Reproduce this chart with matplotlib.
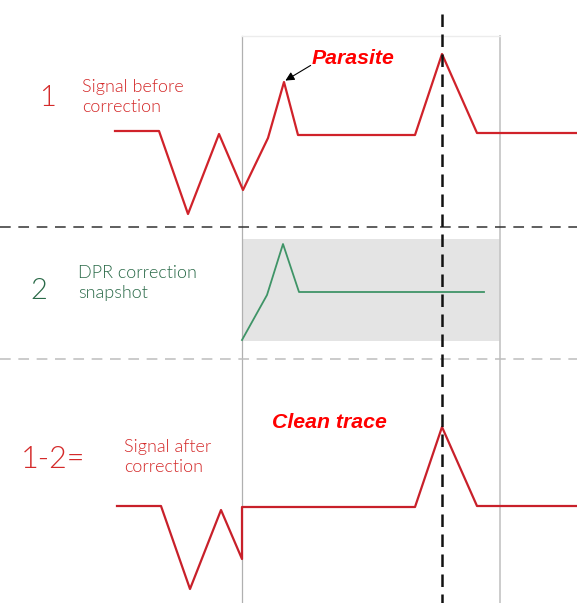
import numpy as np
from matplotlib import pyplot as plt

# trace 1: signal before correction (x = time, y = screen level)
sig1_x = [115, 159, 188, 219, 243, 268, 284, 298, 415, 442, 477, 577]
sig1_y = [131, 131, 214, 134, 190, 138, 82, 135, 135, 54, 133, 133]

# trace 2: DPR correction snapshot
dpr_x = [242, 267, 283, 299, 484]
dpr_y = [340, 295, 244, 292, 292]

# trace 3: signal after correction
sig3_x = [117, 161, 190, 221, 242, 242, 415, 442, 477, 577]
sig3_y = [506, 506, 589, 510, 559, 507, 507, 427, 506, 506]

red = '#d42a2a'
green_line = '#3f9467'
green_txt = '#2a6a48'

fig = plt.figure(figsize=(5.77, 6.03), dpi=100)
ax = fig.add_axes([0, 0, 1, 1])
ax.set_xlim(0, 577)
ax.set_ylim(603, 0)
ax.axis('off')

# window frame and grey snapshot band
ax.plot([242, 242], [36, 603], color='#b0b0b0', lw=0.9)
ax.plot([500, 500], [36, 603], color='#c8c8c8', lw=1.3)
ax.plot([242, 500], [36, 36], color='#ececec', lw=1)
ax.fill_between([242, 500], 239, 341, color='#e4e4e4', lw=0)

# separators
ax.plot([0, 577], [227, 227], color='#333333', lw=1.1, ls=(0, (7, 5)))
ax.plot([0, 577], [359, 359], color='#bdbdbd', lw=1.1, ls=(0, (7, 5)))
ax.plot([442, 442], [14, 603], color='#111111', lw=1.8, ls=(0, (5, 3)), zorder=5)

ax.plot(sig1_x, sig1_y, color='#d0222a', lw=1.6, zorder=4)
ax.plot(dpr_x, dpr_y, color=green_line, lw=1.3, zorder=4)
ax.plot(sig3_x, sig3_y, color='#c8202a', lw=1.6, zorder=4)

lab = dict(family='Lato', fontweight=300)
ax.text(47, 98, '1', color=red, fontsize=21, ha='center', va='center', **lab)
ax.text(82, 97, 'Signal before\ncorrection', color=red, fontsize=13,
        ha='left', va='center', linespacing=1.35, **lab)
ax.text(39, 291, '2', color=green_txt, fontsize=21, ha='center', va='center', **lab)
ax.text(78, 283, 'DPR correction\nsnapshot', color=green_txt, fontsize=13,
        ha='left', va='center', linespacing=1.35, **lab)
ax.text(53, 459, '1-2=', color=red, fontsize=22, ha='center', va='center', **lab)
ax.text(124, 457, 'Signal after\ncorrection', color=red, fontsize=13,
        ha='left', va='center', linespacing=1.35, **lab)

bold = dict(family='Liberation Sans', fontweight='bold', fontstyle='italic',
            color='#ff0000', fontsize=15.3, ha='center', va='center')
ax.text(353, 58, 'Parasite', **bold)
ax.text(329, 422, 'Clean trace', **bold)
ax.annotate('', xy=(283, 82), xytext=(313, 64),
            arrowprops=dict(arrowstyle='-|>', color='black', lw=0.8,
                            mutation_scale=13))

fig.savefig('out.png', dpi=100)
